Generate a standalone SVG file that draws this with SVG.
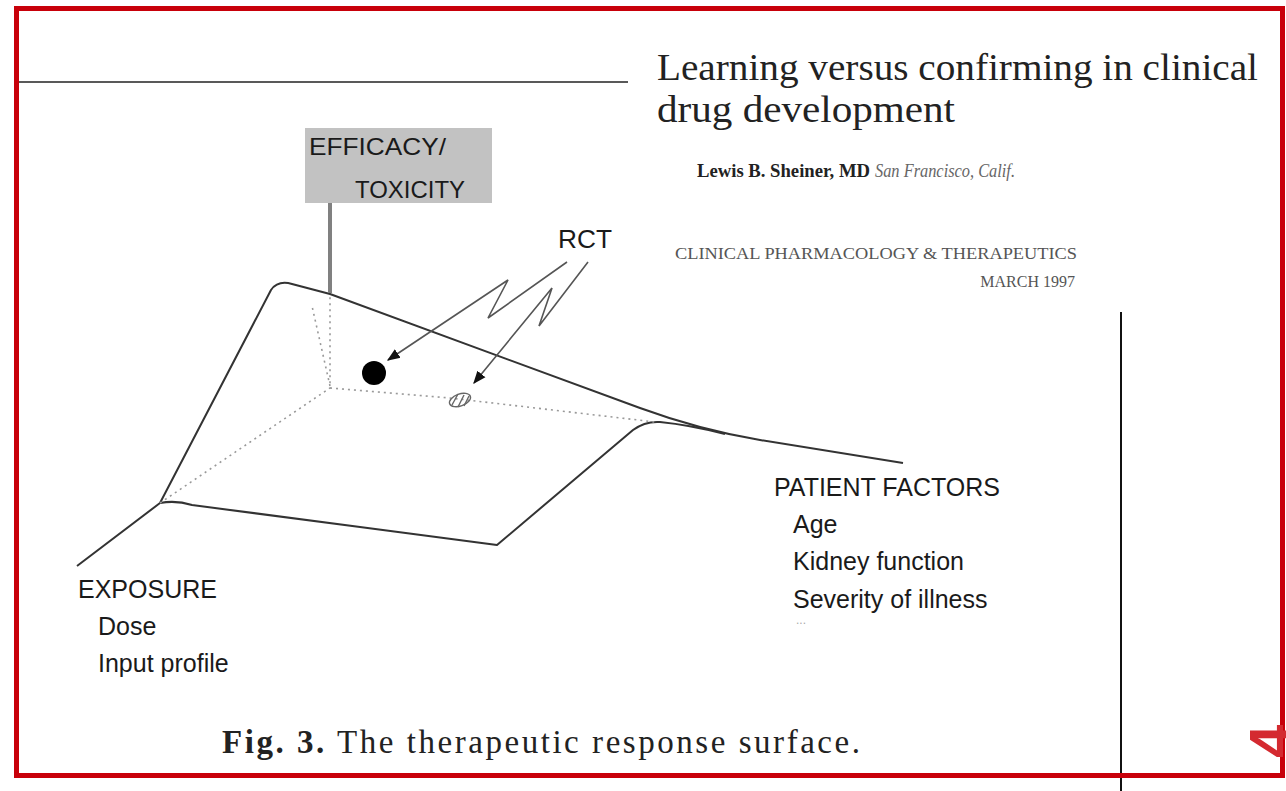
<svg xmlns="http://www.w3.org/2000/svg" width="1286" height="791" viewBox="0 0 1286 791">
<defs>
<style>
.sans{font-family:"Liberation Sans",Arial,sans-serif;fill:#1a1a1a}
.serif{font-family:"Liberation Serif","Times New Roman",serif;fill:#222}
.edge{fill:none;stroke:#333;stroke-width:2;stroke-linejoin:round}
.dot{fill:none;stroke:#999;stroke-width:1.6;stroke-dasharray:2 4}
.arr{fill:none;stroke:#555;stroke-width:1.6;stroke-linejoin:miter}
</style>
<marker id="ah" viewBox="0 0 10 10" refX="9" refY="5" markerWidth="13" markerHeight="13" markerUnits="userSpaceOnUse" orient="auto">
<path d="M0,1 L10,5 L0,9 Z" fill="#111"/>
</marker>
</defs>
<rect x="0" y="0" width="1286" height="791" fill="#fff"/>
<g id="frame">
<line x1="19" y1="82" x2="628" y2="82" stroke="#222" stroke-width="1.6"/>
<line x1="1121" y1="312" x2="1121" y2="791" stroke="#111" stroke-width="2"/>
<rect x="16.5" y="8.5" width="1266" height="767" fill="none" stroke="#c8000a" stroke-width="5"/>
<text transform="translate(1291,758) rotate(-90)" font-family="Liberation Sans,Arial,sans-serif" font-weight="bold" font-size="60" fill="#d42a30">4</text>
</g>
<g id="title">
<text class="serif" x="657" y="80" font-size="38" textLength="601" lengthAdjust="spacingAndGlyphs">Learning versus confirming in clinical</text>
<text class="serif" x="657" y="122" font-size="38" textLength="298" lengthAdjust="spacingAndGlyphs">drug development</text>
<text class="serif" x="697" y="177" font-size="18"><tspan font-weight="bold" textLength="173" lengthAdjust="spacingAndGlyphs">Lewis B. Sheiner, MD</tspan><tspan font-style="italic" style="fill:#666" dx="5" textLength="140" lengthAdjust="spacingAndGlyphs">San Francisco, Calif.</tspan></text>
<text class="serif" x="675" y="259" font-size="16" style="fill:#555" textLength="402" lengthAdjust="spacingAndGlyphs">CLINICAL PHARMACOLOGY &amp; THERAPEUTICS</text>
<text class="serif" x="1075" y="287" font-size="16" style="fill:#555" text-anchor="end">MARCH 1997</text>
</g>
<g id="surface">
<path class="edge" d="M77,566 L160,503 L271,290 Q278,280 292,284 L330,294 L640,408 Q700,430 760,440 L903,463"/>
<path class="edge" d="M160,503 Q176,500 192,505 L360,527 L497,545 L633,430 Q645,421 660,422 Q690,425 725,434"/>
<path class="dot" d="M160,503 L330,388 L330,296"/>
<path class="dot" d="M330,386 L312,306"/>
<path class="dot" d="M330,388 L450,398 L655,422"/>
</g>
<g id="efficacy">
<rect x="305" y="128" width="187" height="75" fill="#c2c2c2"/>
<line x1="330" y1="203" x2="330" y2="293" stroke="#808080" stroke-width="4"/>
<text class="sans" x="309" y="155" font-size="24" textLength="137" lengthAdjust="spacingAndGlyphs">EFFICACY/</text>
<text class="sans" x="355" y="198" font-size="24" textLength="110" lengthAdjust="spacingAndGlyphs">TOXICITY</text>
</g>
<g id="points">
<circle cx="374" cy="373" r="12" fill="#000"/>
<g id="hatched" stroke="#666" stroke-width="1.4" fill="none">
<ellipse cx="460" cy="400" rx="11" ry="6" transform="rotate(-20 460 400)"/>
<line x1="452" y1="405" x2="458" y2="394"/>
<line x1="458" y1="407" x2="464" y2="395"/>
<line x1="464" y1="406" x2="469" y2="396"/>
</g>
</g>
<g id="rct">
<text class="sans" x="558" y="248" font-size="26" textLength="54" lengthAdjust="spacingAndGlyphs">RCT</text>
</g>
<g id="connectors">
<path class="arr" d="M567,262 L488,318 L508,280 L388,360" marker-end="url(#ah)"/>
<path class="arr" d="M588,262 L539,326 L552,288 L474,383" marker-end="url(#ah)"/>
</g>
<g id="patient">
<text class="sans" x="774" y="496" font-size="25">PATIENT FACTORS</text>
<text class="sans" x="793" y="533" font-size="25">Age</text>
<text class="sans" x="793" y="570" font-size="25">Kidney function</text>
<text class="sans" x="793" y="608" font-size="25">Severity of illness</text>
<text class="sans" x="796" y="624" font-size="12" style="fill:#aaa">...</text>
</g>
<g id="exposure">
<text class="sans" x="78" y="598" font-size="25">EXPOSURE</text>
<text class="sans" x="98" y="635" font-size="25">Dose</text>
<text class="sans" x="98" y="672" font-size="25">Input profile</text>
</g>
<g id="caption">
<text class="serif" x="222" y="753" font-size="33" textLength="638" lengthAdjust="spacing"><tspan font-weight="bold">Fig. 3.</tspan> The therapeutic response surface.</text>
</g>
</svg>
